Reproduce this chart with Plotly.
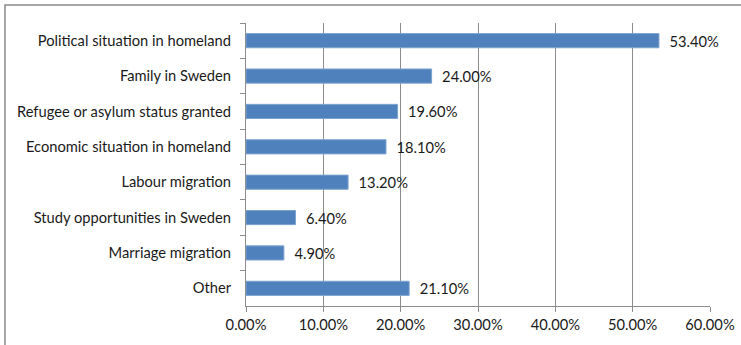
import plotly.graph_objects as go

# Reasons for migrating to Sweden (share of respondents)
categories = [
    "Political situation in homeland",
    "Family in Sweden",
    "Refugee or asylum status granted",
    "Economic situation in homeland",
    "Labour migration",
    "Study opportunities in Sweden",
    "Marriage migration",
    "Other",
]
shares = [53.4, 24.0, 19.6, 18.1, 13.2, 6.4, 4.9, 21.1]
x_ticks = [0, 10, 20, 30, 40, 50, 60]
x_tick_labels = ["0.00%", "10.00%", "20.00%", "30.00%", "40.00%", "50.00%", "60.00%"]

FONT = "Lato"
FSIZE = 14.7
TEXT = "#1a1a1a"
GRID = "#8c8c8c"

fig = go.Figure(
    go.Bar(
        y=categories,
        x=shares,
        orientation="h",
        marker=dict(color="#4F81BD", line=dict(color="#7EA3D1", width=1)),
        text=[f"  {v:.2f}%" for v in shares],
        textposition="outside",
        constraintext="none",
        textfont=dict(family=FONT, size=FSIZE, color=TEXT),
        cliponaxis=False,
        hoverinfo="skip",
    )
)

fig.update_layout(
    width=741,
    height=345,
    margin=dict(l=246, r=31, t=23, b=39, autoexpand=False),
    paper_bgcolor="white",
    plot_bgcolor="white",
    bargap=0.6,
    showlegend=False,
    font=dict(family=FONT, size=FSIZE, color=TEXT),
    shapes=[
        dict(
            type="rect", xref="paper", yref="paper",
            x0=-0.5194, x1=1.08, y0=-0.16, y1=1.0636,
            line=dict(color="#8a8a8a", width=1.5),
            fillcolor="rgba(0,0,0,0)", layer="below",
        )
    ],
)

fig.update_xaxes(
    range=[0, 60],
    tickvals=x_ticks,
    ticktext=x_tick_labels,
    automargin=False,
    showgrid=True,
    gridcolor=GRID,
    gridwidth=1,
    zeroline=False,
    showline=True,
    linecolor=GRID,
    ticks="outside",
    ticklen=5,
    tickcolor=GRID,
    tickfont=dict(family=FONT, size=FSIZE, color=TEXT),
)

fig.update_yaxes(
    categoryorder="array",
    categoryarray=categories,
    autorange="reversed",
    automargin=False,
    showline=True,
    linecolor=GRID,
    ticks="outside",
    tickson="boundaries",
    ticklen=5,
    tickcolor=GRID,
    showgrid=False,
    tickfont=dict(family=FONT, size=FSIZE, color=TEXT),
    ticklabelstandoff=11,
)

fig.write_html("out.html")
